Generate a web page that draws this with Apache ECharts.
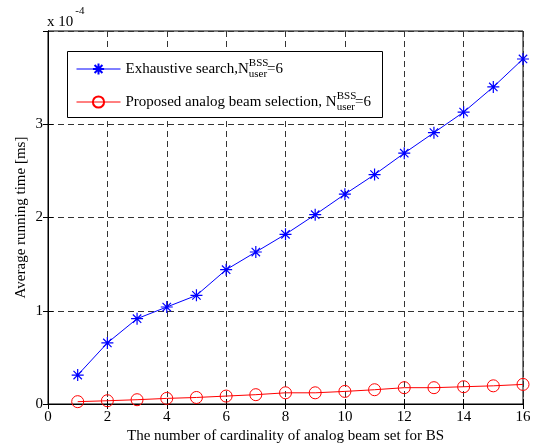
<!DOCTYPE html>
<html>
<head>
<meta charset="utf-8">
<script src="https://cdn.jsdelivr.net/npm/echarts@6/dist/echarts.min.js"></script>
<style>
  html, body { margin: 0; padding: 0; background: #fff; }
  #main { width: 536px; height: 448px; }
</style>
</head>
<body>
<div id="main"></div>
<script>
// 数据 (x 10^-4 ms)
var cardinality = [1, 2, 3, 4, 5, 6, 7, 8, 9, 10, 11, 12, 13, 14, 15, 16];
var exhaustive = [0.31, 0.655, 0.915, 1.04, 1.165, 1.44, 1.63, 1.82, 2.03, 2.25, 2.46, 2.69, 2.91, 3.13, 3.40, 3.70];
var proposed = [0.025, 0.035, 0.046, 0.06, 0.07, 0.085, 0.10, 0.12, 0.12, 0.135, 0.153, 0.175, 0.175, 0.185, 0.195, 0.21];

var FONT = 'Liberation Serif';
var chart = echarts.init(document.getElementById('main'), null, { renderer: 'canvas' });

function pairs(ys) {
  var out = [];
  for (var i = 0; i < cardinality.length; i++) out.push([cardinality[i], ys[i]]);
  return out;
}

var star = 'path://M0,-10L0,10M-10,0L10,0M-7,-7L7,7M-7,7L7,-7';

var axisCommon = {
  axisLine: { lineStyle: { color: '#000', width: 1 } },
  axisTick: { inside: true, length: 5, lineStyle: { color: '#000' } },
  axisLabel: { color: '#000', fontFamily: FONT, fontSize: 15 }
};

var option = {
  backgroundColor: '#fff',
  animation: false,
  grid: { left: 48, right: 13, top: 31, bottom: 44, show: true, borderColor: '#000', borderWidth: 1,
    outerBoundsMode: 'none' },
  legend: {
    orient: 'vertical',
    left: 76,
    top: 58,
    padding: 0,
    itemGap: 11,
    itemWidth: 44,
    itemHeight: 14,
    z: 5,
    lineStyle: { width: 1 },
    data: ['Exhaustive search', 'Proposed analog beam selection'],
    formatter: function (name) {
      if (name == 'Exhaustive search') {
        return '{t|Exhaustive search,N}{sup|BSS}{sub|user}{t|=6}';
      }
      return '{t|Proposed analog beam selection, N}{sup|BSS}{sub|user}{t|=6}';
    },
    textStyle: {
      color: '#000',
      fontFamily: FONT,
      fontSize: 15,
      rich: {
        t: { fontFamily: FONT, fontSize: 15, color: '#000', lineHeight: 22 },
        sup: { fontFamily: FONT, fontSize: 11, color: '#000', lineHeight: 22, verticalAlign: 'top', width: 0.01 },
        sub: { fontFamily: FONT, fontSize: 11, color: '#000', lineHeight: 22, verticalAlign: 'bottom' }
      }
    }
  },
  graphic: [
    { type: 'rect', z: 3, shape: { x: 67.5, y: 51.5, width: 315, height: 66 },
      style: { fill: '#fff', stroke: '#000', lineWidth: 1 } },
    { type: 'text', left: 47, top: 6,
      style: { text: '{a|x 10}{b|-4}', rich: {
        a: { fontFamily: FONT, fontSize: 15, color: '#000', lineHeight: 24, verticalAlign: 'bottom' },
        b: { fontFamily: FONT, fontSize: 11, color: '#000', lineHeight: 24, verticalAlign: 'top', padding: [0, 0, 0, 2] }
      } } }
  ],
  xAxis: [
    Object.assign({}, axisCommon, {
      type: 'value', min: 0, max: 16, interval: 2,
      name: 'The number of cardinality of analog beam set for BS',
      nameLocation: 'middle', nameGap: 25, nameMoveOverlap: false,
      nameTextStyle: { color: '#000', fontFamily: FONT, fontSize: 15 },
      axisLabel: { color: '#000', fontFamily: FONT, fontSize: 15, margin: 6 },
      splitLine: { show: true, lineStyle: { color: '#333', type: [6, 4], width: 1 } }
    }),
    Object.assign({}, axisCommon, {
      type: 'value', min: 0, max: 16, interval: 2, position: 'top',
      axisLabel: { show: false }, splitLine: { show: false }
    })
  ],
  yAxis: [
    Object.assign({}, axisCommon, {
      type: 'value', min: 0, max: 4, interval: 1,
      name: 'Average running time [ms]',
      nameLocation: 'middle', nameGap: 19, nameMoveOverlap: false,
      nameTextStyle: { color: '#000', fontFamily: FONT, fontSize: 15 },
      axisLabel: { color: '#000', fontFamily: FONT, fontSize: 15, margin: 5, showMaxLabel: false },
      splitLine: { show: true, lineStyle: { color: '#333', type: [6, 4], width: 1 } }
    }),
    Object.assign({}, axisCommon, {
      type: 'value', min: 0, max: 4, interval: 1, position: 'right',
      axisLabel: { show: false }, splitLine: { show: false }
    })
  ],
  series: [
    {
      name: 'Exhaustive search',
      type: 'line',
      data: pairs(exhaustive),
      symbol: star,
      symbolSize: 12,
      color: '#0000ff',
      lineStyle: { color: '#0000ff', width: 1 },
      itemStyle: { color: 'rgba(0,0,0,0)', borderColor: '#0000ff', borderWidth: 1.2 }
    },
    {
      name: 'Proposed analog beam selection',
      type: 'line',
      data: pairs(proposed),
      symbol: 'circle',
      symbolSize: 12,
      color: '#ff0000',
      lineStyle: { color: '#ff0000', width: 1 },
      itemStyle: { color: 'rgba(0,0,0,0)', borderColor: '#ff0000', borderWidth: 1 }
    }
  ]
};

chart.setOption(option);
</script>
</body>
</html>
